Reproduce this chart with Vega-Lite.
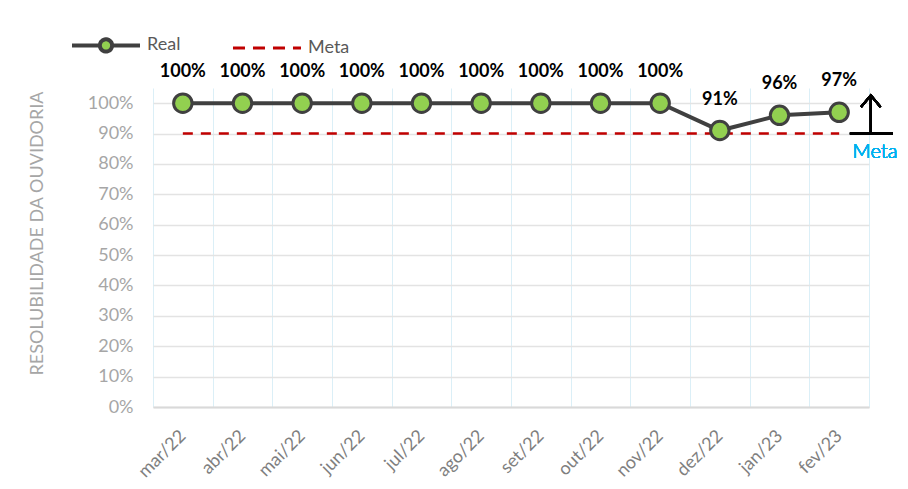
{
  "$schema": "https://vega.github.io/schema/vega-lite/v6.json",
  "width": 716,
  "height": 319,
  "autosize": "none",
  "padding": {"left": 153, "top": 88, "right": 39, "bottom": 82},
  "background": "white",
  "config": {"font": "Lato", "view": {"stroke": null}},
  "data": {
    "values": [
      {"i": 0, "mes": "mar/22", "real": 1.0, "meta": 0.9},
      {"i": 1, "mes": "abr/22", "real": 1.0, "meta": 0.9},
      {"i": 2, "mes": "mai/22", "real": 1.0, "meta": 0.9},
      {"i": 3, "mes": "jun/22", "real": 1.0, "meta": 0.9},
      {"i": 4, "mes": "jul/22", "real": 1.0, "meta": 0.9},
      {"i": 5, "mes": "ago/22", "real": 1.0, "meta": 0.9},
      {"i": 6, "mes": "set/22", "real": 1.0, "meta": 0.9},
      {"i": 7, "mes": "out/22", "real": 1.0, "meta": 0.9},
      {"i": 8, "mes": "nov/22", "real": 1.0, "meta": 0.9},
      {"i": 9, "mes": "dez/22", "real": 0.91, "meta": 0.9},
      {"i": 10, "mes": "jan/23", "real": 0.96, "meta": 0.9},
      {"i": 11, "mes": "fev/23", "real": 0.97, "meta": 0.9}
    ]
  },
  "layer": [
    {
      "mark": {"type": "line", "strokeDash": [10, 8], "strokeWidth": 2.5},
      "encoding": {
        "x": {
          "field": "i", "type": "quantitative",
          "scale": {"domain": [-0.5, 11.5], "nice": false, "zero": false},
          "axis": {
            "orient": "bottom", "title": null,
            "values": [-0.5, 0.5, 1.5, 2.5, 3.5, 4.5, 5.5, 6.5, 7.5, 8.5, 9.5, 10.5, 11.5],
            "grid": true, "gridColor": "#dbeff7", "gridWidth": 1,
            "labels": false, "ticks": false, "domain": false
          }
        },
        "y": {
          "field": "meta", "type": "quantitative",
          "scale": {"domain": [0, 1.05], "nice": false, "zero": true},
          "axis": {
            "orient": "left",
            "title": "RESOLUBILIDADE DA OUVIDORIA",
            "titleColor": "#a6a6a6", "titleFontSize": 18, "titleFontWeight": "normal",
            "titleX": -116, "titleY": 145, "titleAngle": -90,
            "titleAlign": "center", "titleBaseline": "middle",
            "values": [0, 0.1, 0.2, 0.3, 0.4, 0.5, 0.6, 0.7, 0.8, 0.9, 1.0],
            "format": ".0%",
            "labelColor": "#a6a6a6", "labelFontSize": 18, "labelPadding": 20,
            "ticks": false, "domain": false,
            "grid": true, "gridColor": "#e3e3e3", "gridWidth": 1.5
          }
        },
        "color": {
          "datum": "Meta",
          "scale": {"domain": ["Real", "Meta"], "range": ["#404040", "#c00000"]},
          "legend": {
            "orient": "none", "legendX": -81, "legendY": -52,
            "direction": "horizontal", "title": null,
            "labelColor": "#595959", "labelFontSize": 18, "labelOffset": 57,
            "columnPadding": 45, "symbolSize": 4624,
            "encode": {
              "symbols": {
                "update": {
                  "shape": {"signal": "datum.value === 'Real' ? 'M-0.265,0H0.555A0.18,0.18 0 1,1 0.915,0A0.18,0.18 0 1,1 0.555,0M0.915,0H1.735' : 'M-0.265,0H1.735'"},
                  "fill": {"signal": "datum.value === 'Real' ? '#92d050' : 'transparent'"},
                  "stroke": {"signal": "datum.value === 'Real' ? '#404040' : '#c00000'"},
                  "strokeWidth": {"signal": "datum.value === 'Real' ? 4 : 3"},
                  "strokeDash": {"signal": "datum.value === 'Real' ? [1, 0] : [12, 8]"},
                  "opacity": {"value": 1}
                }
              }
            }
          }
        }
      }
    },
    {
      "mark": {"type": "line", "strokeWidth": 4},
      "encoding": {
        "x": {
          "field": "i", "type": "quantitative",
          "axis": {
            "orient": "bottom", "title": null,
            "values": [0, 1, 2, 3, 4, 5, 6, 7, 8, 9, 10, 11],
            "labelExpr": "['mar/22','abr/22','mai/22','jun/22','jul/22','ago/22','set/22','out/22','nov/22','dez/22','jan/23','fev/23'][datum.value]",
            "labelAngle": -45, "labelAlign": "right", "labelBaseline": "middle",
            "labelColor": "#7f7f7f", "labelFontSize": 18, "labelPadding": 26,
            "grid": false, "ticks": false,
            "domain": true, "domainColor": "#d9d9d9", "domainWidth": 2
          }
        },
        "y": {"field": "real", "type": "quantitative", "axis": null},
        "color": {"datum": "Real"}
      }
    },
    {
      "mark": {"type": "point", "filled": true, "fill": "#92d050", "stroke": "#404040", "strokeWidth": 3, "size": 340, "opacity": 1},
      "encoding": {
        "x": {"field": "i", "type": "quantitative", "axis": null},
        "y": {"field": "real", "type": "quantitative", "axis": null}
      }
    },
    {
      "mark": {"type": "text", "dy": -31, "fontWeight": "bold", "fontSize": 18, "color": "#000000"},
      "encoding": {
        "x": {"field": "i", "type": "quantitative", "axis": null},
        "y": {"field": "real", "type": "quantitative", "axis": null},
        "text": {"field": "real", "type": "quantitative", "format": ".0%"}
      }
    },
    {
      "mark": {"type": "rule", "color": "#000000", "strokeWidth": 2},
      "encoding": {
        "x": {"datum": 11.18, "type": "quantitative", "axis": null},
        "x2": {"datum": 11.9},
        "y": {"datum": 0.9, "type": "quantitative", "axis": null}
      }
    },
    {
      "mark": {"type": "rule", "color": "#000000", "strokeWidth": 2},
      "encoding": {
        "x": {"datum": 11.53, "type": "quantitative", "axis": null},
        "y": {"datum": 0.9, "type": "quantitative", "axis": null},
        "y2": {"datum": 1.026}
      }
    },
    {
      "mark": {"type": "point", "shape": "M-1,1.2L0,0L1,1.2", "filled": false, "stroke": "#000000", "strokeWidth": 2, "size": 380, "opacity": 1},
      "encoding": {
        "x": {"datum": 11.53, "type": "quantitative", "axis": null},
        "y": {"datum": 1.026, "type": "quantitative", "axis": null}
      }
    },
    {
      "mark": {"type": "text", "text": "Meta", "fontSize": 20, "fontWeight": 300, "color": "#00b0f0", "align": "center", "baseline": "middle"},
      "encoding": {
        "x": {"datum": 11.6, "type": "quantitative", "axis": null},
        "y": {"datum": 0.84, "type": "quantitative", "axis": null}
      }
    }
  ],
  "resolve": {"axis": {"x": "independent", "y": "independent"}}
}
